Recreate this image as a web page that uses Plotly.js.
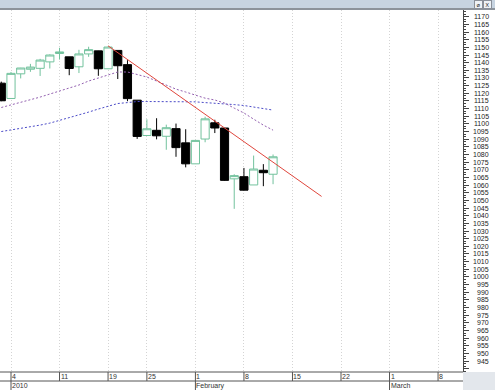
<!DOCTYPE html>
<html>
<head>
<meta charset="utf-8">
<script src="https://cdn.plot.ly/plotly-3.0.1.min.js"></script>
<style>
  html, body { margin: 0; padding: 0; background: #ffffff; }
  #chart { width: 495px; height: 390px; }
</style>
</head>
<body>
<div id="chart"></div>
<script>
// ---- data (S&P 500 daily candles) ----
const dates = ["2009-12-31","2010-01-04","2010-01-05","2010-01-06","2010-01-07","2010-01-08",
  "2010-01-11","2010-01-12","2010-01-13","2010-01-14","2010-01-15",
  "2010-01-19","2010-01-20","2010-01-21","2010-01-22",
  "2010-01-25","2010-01-26","2010-01-27","2010-01-28","2010-01-29",
  "2010-02-01","2010-02-02","2010-02-03","2010-02-04","2010-02-05",
  "2010-02-08","2010-02-09","2010-02-10","2010-02-11"];
const openP  = [1126.6,1116.6,1132.7,1135.7,1136.3,1140.5,1146.0,1143.8,1137.3,1145.7,1147.7,
  1136.0,1148.0,1138.7,1115.5,1092.4,1095.8,1091.9,1096.9,1087.6,
  1073.9,1090.1,1100.7,1097.3,1064.1,1065.5,1060.1,1069.7,1067.1];
const highP  = [1127.6,1133.9,1136.6,1139.2,1142.5,1145.4,1149.7,1143.8,1148.4,1150.4,1147.8,
  1150.5,1148.0,1141.6,1115.5,1103.0,1103.7,1099.5,1100.2,1096.5,
  1089.4,1104.7,1102.7,1097.3,1067.1,1071.2,1079.3,1073.7,1080.0];
const lowP   = [1114.8,1116.6,1129.7,1134.0,1131.3,1136.2,1142.0,1131.8,1133.2,1143.8,1131.4,
  1135.8,1129.3,1114.8,1090.2,1092.4,1089.9,1083.1,1078.5,1071.6,
  1073.9,1088.0,1094.0,1062.8,1044.5,1056.5,1060.1,1059.3,1060.6];
const closeP = [1115.1,1133.0,1136.5,1137.1,1141.7,1145.0,1147.0,1136.2,1145.7,1148.5,1136.0,
  1150.2,1138.0,1116.5,1091.8,1096.8,1092.2,1097.5,1084.5,1073.9,
  1089.2,1103.3,1097.3,1063.1,1066.2,1056.7,1070.5,1068.1,1078.5];
// moving averages (dotted lines)
const fastMA = [1110.7,1112.3,1114.2,1115.6,1117.5,1119.5,1121.4,1123.4,1125.4,1128.0,1130.0,
  1131.9,1133.9,1133.9,1132.5,1130.6,1128.0,1125.4,1122.7,1120.8,
  1118.8,1116.8,1115.6,1113.6,1110.3,1107.1,1103.1,1099.2,1095.9];
const slowMA = [1095.0,1096.0,1096.9,1097.9,1099.2,1100.5,1102.2,1103.8,1105.8,1107.7,1109.7,
  1111.6,1113.3,1113.9,1114.6,1114.6,1114.6,1114.6,1114.6,1114.6,
  1114.4,1113.9,1113.6,1113.3,1112.6,1112.0,1111.0,1110.0,1109.0];
// trend line
const trendDates  = ["2010-01-19","2010-02-18"];
const trendValues = [1151.0, 1052.6];
// axis labels
const tickDates  = ["2010-01-04","2010-01-11","2010-01-19","2010-01-25","2010-02-01",
  "2010-02-08","2010-02-15","2010-02-22","2010-03-01","2010-03-08"];
const tickLabels = ["4","11","19","25","1","8","15","22","1","8"];
const monthDates  = ["2010-01-04","2010-02-01","2010-03-01"];
const monthLabels = ["2010","February","March"];
const priceLabels = [];
for (let v = 945; v <= 1170; v += 5) priceLabels.push(v);
const holidays = ["2010-01-01","2010-01-18"];

// trading-day index (Jan 4 2010 = 0), weekends and past holidays skipped
function dayIndex(s) {
  const base = Date.UTC(2010,0,4), d = Date.parse(s + "T00:00:00Z"), day = 86400000;
  const lo = Math.min(base, d), hi = Math.max(base, d);
  let n = 0;
  for (let t = lo; t < hi; t += day) {
    const wd = new Date(t).getUTCDay();
    const iso = new Date(t).toISOString().slice(0,10);
    if (wd !== 0 && wd !== 6 && holidays.indexOf(iso) < 0) n++;
  }
  return d >= base ? n : -n;
}
const xi = dates.map(dayIndex);

const GREEN = '#72c29d';
const traces = [
  { type:'scatter', mode:'lines', x: xi, y: slowMA, line:{color:'#4b4bc8', width:1, dash:'2px,2px'}, hoverinfo:'skip' },
  { type:'scatter', mode:'lines', x: xi, y: fastMA, line:{color:'#9360b0', width:1, dash:'2px,2px'}, hoverinfo:'skip' },
  { type:'candlestick', x: xi, open: openP, high: highP, low: lowP, close: closeP,
    whiskerwidth: 0,
    increasing:{line:{color:GREEN, width:1}, fillcolor:'#ffffff'},
    decreasing:{line:{color:'#000000', width:1}, fillcolor:'#000000'},
    hoverinfo:'skip' },
  { type:'scatter', mode:'lines', x: trendDates.map(dayIndex), y: trendValues,
    line:{color:'#e0463c', width:1}, hoverinfo:'skip' }
];

const W = 495, H = 390, mL = 0, mR = 32, mT = 10, mB = 18;
const pw = W - mL - mR, ph = H - mT - mB;
const py = px => px / ph;   // pixel offset -> paper fraction (vertical)
const pxx = px => px / pw;  // pixel offset -> paper fraction (horizontal)

const FONT = 'Liberation Sans, Arial, sans-serif';
const shapes = [];
const annotations = [];
// top title strip
shapes.push({type:'rect', xref:'paper', yref:'paper', x0:0, x1:pxx(W), y0:1+py(2), y1:1+py(10),
  fillcolor:'#c7d4e1', line:{width:0}, layer:'above'});
shapes.push({type:'line', xref:'paper', yref:'paper', x0:0, x1:pxx(W), y0:1+py(1), y1:1+py(1),
  line:{color:'#8c939b', width:2}});
// bottom date rows
shapes.push({type:'rect', xref:'paper', yref:'paper', x0:1, x1:pxx(W), y0:-py(mB), y1:0,
  fillcolor:'#e3e7ec', line:{width:0}});
shapes.push({type:'line', xref:'paper', yref:'paper', x0:0, x1:1, y0:0, y1:0, line:{color:'#555', width:1}});
shapes.push({type:'line', xref:'paper', yref:'paper', x0:0, x1:1, y0:-py(9), y1:-py(9), line:{color:'#555', width:1}});
tickDates.forEach((d, i) => {
  const x = dayIndex(d);
  shapes.push({type:'line', xref:'x', yref:'paper', x0:x, x1:x, y0:0, y1:-py(9), line:{color:'#555', width:1}});
  annotations.push({xref:'x', yref:'paper', x:x, y:-py(4.5), xanchor:'left', yanchor:'middle', xshift:0, borderpad:0,
    text:tickLabels[i], showarrow:false, font:{size:7, color:'#333', family:FONT}});
});
monthDates.forEach((d, i) => {
  const x = dayIndex(d);
  shapes.push({type:'line', xref:'x', yref:'paper', x0:x, x1:x, y0:-py(9), y1:-py(18), line:{color:'#555', width:1}});
  annotations.push({xref:'x', yref:'paper', x:x, y:-py(13.5), xanchor:'left', yanchor:'middle', xshift:0, borderpad:0,
    text:monthLabels[i], showarrow:false, font:{size:7, color:'#333', family:FONT}});
});
// right price labels
priceLabels.forEach(v => {
  annotations.push({xref:'paper', yref:'y', x:1, y:v, xanchor:'right', yanchor:'middle', xshift:27, borderpad:0,
    text:String(v), showarrow:false, font:{size:7, color:'#222', family:FONT}});
});
// window buttons
annotations.push({xref:'paper', yref:'paper', x:1, y:1+py(5.5), xanchor:'center', yanchor:'middle', xshift:15,
  text:'ø', showarrow:false, font:{size:6, color:'#222'}, bgcolor:'#eef2f6', bordercolor:'#8a9099', borderwidth:1, borderpad:0, width:7, height:7});
annotations.push({xref:'paper', yref:'paper', x:1, y:1+py(5.5), xanchor:'center', yanchor:'middle', xshift:24,
  text:'X', showarrow:false, font:{size:6, color:'#222'}, bgcolor:'#eef2f6', bordercolor:'#8a9099', borderwidth:1, borderpad:0, width:7, height:7});

const layout = {
  width: W, height: H,
  margin: {l:mL, r:mR, t:mT, b:mB, pad:0},
  paper_bgcolor:'#ffffff', plot_bgcolor:'#ffffff',
  showlegend:false, hovermode:false,
  boxgap: 0.16, boxgroupgap: 0,
  xaxis: {
    range:[-1.133, 46.57], fixedrange:true,
    tickmode:'array', tickvals: tickDates.map(dayIndex), ticktext: tickLabels,
    showticklabels:false, ticks:'',
    showgrid:true, gridcolor:'#d4d4d4', griddash:'1px,2px', gridwidth:1,
    zeroline:false, showline:false,
    rangeslider:{visible:false}
  },
  yaxis: {
    range:[937.9, 1174.4], fixedrange:true, side:'right',
    showticklabels:false, showgrid:false, zeroline:false,
    showline:true, linecolor:'#444', linewidth:1,
    ticks:'outside', ticklen:5, tickcolor:'#444', tickwidth:1, dtick:5, tick0:0,
    minor:{dtick:5/3, ticklen:2, tickcolor:'#444', ticks:'outside'}
  },
  shapes: shapes,
  annotations: annotations
};

Plotly.newPlot('chart', traces, layout, {staticPlot:true, displayModeBar:false});
</script>
</body>
</html>
